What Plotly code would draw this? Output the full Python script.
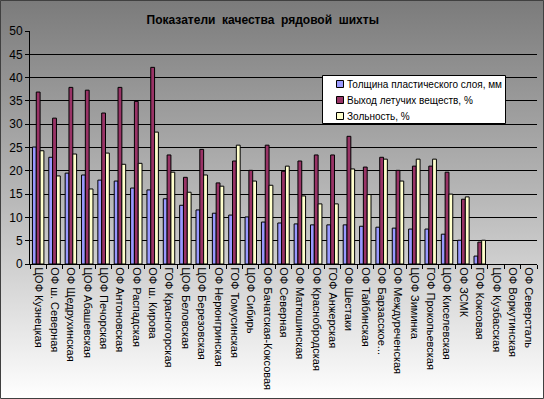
import base64
import plotly.graph_objects as go

categories = [
    "ЦОФ Кузнецкая", "ОФ ш. Северная", "ОФ Щедрухинская", "ЦОФ Абашевская",
    "ЦОФ Печорская", "ОФ Антоновская", "ОФ Распадская", "ОФ ш. Кирова",
    "ГОФ Красногорская", "ЦОФ Беловская", "ЦОФ Березовская", "ОФ Нерюнгринская",
    "ГОФ Томусинская", "ЦОФ Сибирь", "ОФ Бачатская-Коксовая", "ОФ Северная",
    "ОФ Матюшинская", "ОФ Краснобродская", "ГОФ Анжерская", "ОФ Шестаки",
    "ОФ Тайбинская", "ОФ Барзасское...", "ОФ Междуреченская", "ЦОФ Зиминка",
    "ГОФ Прокопьевская", "ЦОФ Киселевская", "ОФ ЗСМК", "ГОФ Коксовая",
    "ЦОФ Кузбасская", "ОФ Воркутинская", "ОФ Северсталь",
]

plastic_layer = [25.1, 22.9, 19.5, 19.1, 18.0, 17.8, 16.3, 15.9, 14.0, 12.6,
                 11.6, 10.9, 10.5, 10.1, 9.0, 8.8, 8.6, 8.4, 8.4, 8.4,
                 8.1, 7.9, 7.7, 7.5, 7.5, 6.4, 5.1, 1.7, None, None, None]
volatile = [36.9, 31.3, 37.9, 37.3, 32.4, 37.9, 34.9, 42.2, 23.4, 18.6,
            24.6, 17.4, 22.1, 20.1, 25.5, 19.9, 22.1, 23.4, 23.4, 27.4,
            20.8, 22.9, 20.1, 21.0, 21.0, 19.7, 13.9, 4.7, None, None, None]
ash = [24.3, 18.9, 23.6, 16.1, 23.8, 21.4, 21.6, 28.3, 19.7, 15.4,
       19.1, 16.7, 25.5, 17.8, 16.9, 21.0, 14.6, 12.9, 12.9, 20.4,
       14.9, 22.5, 17.8, 22.5, 22.5, 15.0, 14.4, 5.1, None, None, None]

series_names = ["Толщина пластического слоя, мм", "Выход летучих веществ, %", "Зольность, %"]
series_colors = ["#9999FF", "#993366", "#FFFFCC"]
y_ticks = [0, 5, 10, 15, 20, 25, 30, 35, 40, 45, 50]

W, H = 544, 399
ML, MR, MT, MB = 30, 7, 31, 135
pw = W - ML - MR
ph = H - MT - MB


def px_x(x):
    return (x - ML) / pw


def px_y(y):
    return (H - MB - y) / ph


fig = go.Figure()
for name, vals, col in zip(series_names, [plastic_layer, volatile, ash], series_colors):
    fig.add_trace(go.Bar(
        x=categories, y=vals, name=name,
        marker=dict(color=col, line=dict(color="black", width=1)),
    ))

# gradient background (svg image spanning whole figure)
svg = (
    '<svg xmlns="http://www.w3.org/2000/svg" width="100" height="100" preserveAspectRatio="none">'
    '<defs><linearGradient id="g" x1="0" y1="0" x2="0" y2="1">'
    '<stop offset="0" stop-color="#7b7b7b"/>'
    '<stop offset="0.5" stop-color="#b8b8b8"/>'
    '<stop offset="1" stop-color="#ffffff"/>'
    '</linearGradient></defs>'
    '<rect width="100" height="100" fill="url(#g)"/></svg>'
)
src = "data:image/svg+xml;base64," + base64.b64encode(svg.encode()).decode()
fig.add_layout_image(dict(
    source=src, xref="paper", yref="paper",
    x=px_x(0), y=px_y(0), sizex=W / pw, sizey=H / ph,
    xanchor="left", yanchor="top", sizing="stretch", layer="below",
))
# chart border
fig.add_shape(type="rect", xref="paper", yref="paper",
              x0=px_x(0.5), x1=px_x(W - 0.5), y0=px_y(H - 0.5), y1=px_y(0.5),
              line=dict(color="#404040", width=1), layer="above")

# legend box (drawn)
fig.add_shape(type="rect", xref="paper", yref="paper",
              x0=px_x(322.5), x1=px_x(505.5), y0=px_y(123.5), y1=px_y(75.5),
              fillcolor="white", line=dict(color="black", width=1), layer="above")
for i, (name, col) in enumerate(zip(series_names, series_colors)):
    cy = 84 + 16 * i
    fig.add_shape(type="rect", xref="paper", yref="paper",
                  x0=px_x(336.5), x1=px_x(343.5), y0=px_y(cy + 3.5), y1=px_y(cy - 3.5),
                  fillcolor=col, line=dict(color="black", width=1), layer="above")
    fig.add_annotation(x=px_x(345), y=px_y(cy), xref="paper", yref="paper",
                       text=name, showarrow=False, xanchor="left", yanchor="middle",
                       font=dict(size=10, color="black"))

fig.update_layout(
    width=W, height=H,
    margin=dict(l=ML, r=MR, t=MT, b=MB, pad=0, autoexpand=False),
    paper_bgcolor="rgba(0,0,0,0)", plot_bgcolor="rgba(0,0,0,0)",
    barmode="group", bargap=0.3, bargroupgap=0,
    font=dict(family="Liberation Sans, Arial", size=11, color="black"),
    title=dict(text="<b>Показатели  качества  рядовой  шихты</b>", x=0.483, xanchor="center",
               y=1 - 20 / H, yanchor="middle", font=dict(size=12, color="black")),
    showlegend=False,
    xaxis=dict(type="category", tickangle=90, showgrid=False, showline=True, linecolor="black",
               ticks="outside", tickson="boundaries", ticklen=4, tickcolor="black",
               tickfont=dict(size=11), automargin=False),
    yaxis=dict(range=[0, 50], tickvals=y_ticks, showgrid=True, gridcolor="black", gridwidth=1,
               showline=True, linecolor="black", ticks="outside", ticklen=4, tickcolor="black",
               zeroline=False, tickfont=dict(size=12), automargin=False),
)

fig.write_html("out.html",
               config={"displayModeBar": False, "staticPlot": True},
               post_script="document.body.style.margin='0';document.body.style.padding='0';"
                           "document.body.style.overflow='hidden';")
